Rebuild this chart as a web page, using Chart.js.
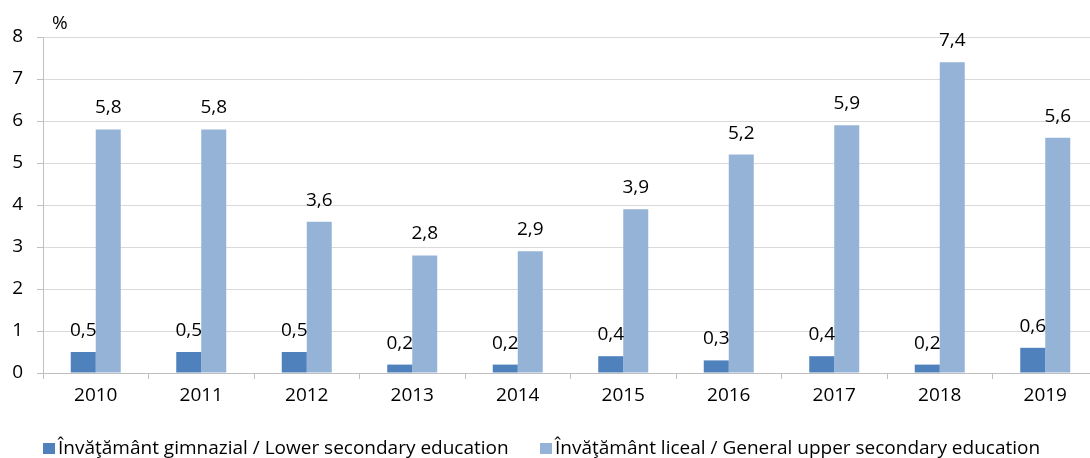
<!DOCTYPE html>
<html>
<head>
<meta charset="utf-8">
<script src="https://cdn.jsdelivr.net/npm/chart.js@4/dist/chart.umd.min.js"></script>
<style>
  html, body { margin: 0; padding: 0; background: #fff; overflow: hidden; }
  #wrap { width: 1098px; height: 458px; position: relative; }
</style>
</head>
<body>
<div id="wrap"><canvas id="myChart"></canvas></div>
<script>
const years = ['2010', '2011', '2012', '2013', '2014', '2015', '2016', '2017', '2018', '2019'];
const lowerSecondary = [0.5, 0.5, 0.5, 0.2, 0.2, 0.4, 0.3, 0.4, 0.2, 0.6];
const upperSecondary = [5.8, 5.8, 3.6, 2.8, 2.9, 3.9, 5.2, 5.9, 7.4, 5.6];
const seriesNames = [
  'Învăţământ gimnazial / Lower secondary education',
  'Învăţământ liceal / General upper secondary education'
];
const yTicks = [0, 1, 2, 3, 4, 5, 6, 7, 8];

const FONT = "'Open Sans', sans-serif";

// value labels above the bars (decimal comma), unit label and legend
const extras = {
  id: 'extras',
  afterDatasetsDraw(chart) {
    const ctx = chart.ctx;
    ctx.save();
    ctx.font = '19px ' + FONT;
    ctx.fillStyle = '#000';
    ctx.textAlign = 'center';
    ctx.textBaseline = 'alphabetic';
    chart.data.datasets.forEach((ds, i) => {
      chart.getDatasetMeta(i).data.forEach((bar, j) => {
        ctx.fillText(String(ds.data[j]).replace('.', ','), bar.x, bar.y - 16);
      });
    });
    ctx.textAlign = 'left';
    ctx.fillText('%', 52, 29);

    // legend
    const legendX = [43, 540];
    chart.data.datasets.forEach((ds, i) => {
      ctx.fillStyle = ds.backgroundColor;
      ctx.fillRect(legendX[i], 443, 12, 11);
      ctx.fillStyle = '#000';
      ctx.fillText(ds.label, legendX[i] + 15, 454);
    });
    ctx.restore();
  }
};

new Chart(document.getElementById('myChart'), {
  type: 'bar',
  data: {
    labels: years,
    datasets: [{
      label: seriesNames[0],
      data: lowerSecondary,
      backgroundColor: '#4F81BD'
    }, {
      label: seriesNames[1],
      data: upperSecondary,
      backgroundColor: '#95B3D7'
    }]
  },
  options: {
    responsive: true,
    maintainAspectRatio: false,
    animation: false,
    layout: { padding: { top: 37, left: 0, right: 0, bottom: 45 } },
    datasets: {
      bar: { barPercentage: 1, categoryPercentage: 0.474 }
    },
    plugins: {
      tooltip: { enabled: false },
      legend: { display: false }
    },
    scales: {
      x: {
        grid: { offset: true, drawOnChartArea: false, tickLength: 6, color: '#bfbfbf' },
        border: { color: '#bfbfbf' },
        ticks: { font: { family: FONT, size: 19 }, color: '#000', padding: 5 },
        afterFit(scale) { scale.height = 40; }
      },
      y: {
        min: 0,
        max: 8,
        afterBuildTicks(scale) { scale.ticks = yTicks.map(v => ({ value: v })); },
        grid: { color: '#d9d9d9', tickLength: 6, tickColor: '#bfbfbf' },
        border: { color: '#bfbfbf' },
        ticks: { font: { family: FONT, size: 19 }, color: '#000', padding: 14 },
        afterFit(scale) { scale.width = 43; }
      }
    }
  },
  plugins: [extras]
});
</script>
</body>
</html>
